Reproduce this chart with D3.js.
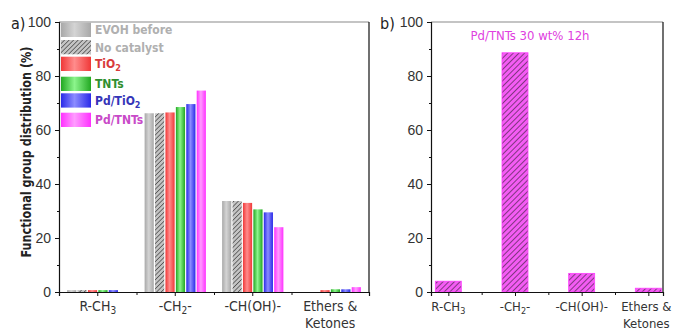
<!DOCTYPE html>
<html>
<head>
<meta charset="utf-8">
<script src="https://cdn.jsdelivr.net/npm/d3@7"></script>
<style>
  body { margin: 0; background: #fff; }
  svg { display: block; font-family: "DejaVu Sans Condensed", "DejaVu Sans", sans-serif; }
</style>
</head>
<body>
<svg width="673" height="329"></svg>
<script>
// chart data
const categories = ["R-CH3", "-CH2-", "-CH(OH)-", "Ethers & Ketones"];
const seriesNames = ["EVOH before", "No catalyst", "TiO2", "TNTs", "Pd/TiO2", "Pd/TNTs"];
const evohBefore = [0.7, 66.2, 33.7, 0];
const noCatalyst = [0.7, 66.2, 33.7, 0];
const tio2 = [0.7, 66.5, 33.0, 0.7];
const tnts = [0.7, 68.5, 30.6, 1.0];
const pdTio2 = [0.7, 69.6, 29.5, 1.0];
const pdTnts = [0, 74.6, 24.0, 1.8];
const pdTnts30wt12h = [4.0, 88.6, 6.9, 1.4];
const yTicks = [0, 20, 40, 60, 80, 100];
const yMinor = [10, 30, 50, 70, 90];

window.onload = () => {
  const svg = d3.select("svg");
  const defs = svg.append("defs");

  // cylinder-like shading for the bars
  const grad = (id, edge, mid) => {
    const g = defs.append("linearGradient").attr("id", id)
      .attr("x1", 0).attr("x2", 1).attr("y1", 0).attr("y2", 0);
    g.append("stop").attr("offset", 0).attr("stop-color", edge);
    g.append("stop").attr("offset", 0.45).attr("stop-color", mid);
    g.append("stop").attr("offset", 1).attr("stop-color", edge);
  };
  grad("gGray", "#a8a8a8", "#d4d4d4");
  grad("gRed", "#f03838", "#ff8c8c");
  grad("gGreen", "#22a822", "#8cf58c");
  grad("gBlue", "#2a2ae8", "#8c8cff");
  grad("gMag", "#ff30ff", "#ff9cff");

  const hatch = (id, bg, step, sw) => {
    const p = defs.append("pattern").attr("id", id)
      .attr("patternUnits", "userSpaceOnUse")
      .attr("width", step).attr("height", step)
      .attr("patternTransform", "rotate(45)");
    p.append("rect").attr("width", step).attr("height", step).attr("fill", bg);
    p.append("line").attr("x1", 0).attr("y1", 0).attr("x2", 0).attr("y2", step)
      .attr("stroke", "#111").attr("stroke-width", sw);
  };
  hatch("hGray", "#c4c4c4", 3.2, 1);
  hatch("hMag", "#f45cf4", 4, 1);

  const series = [
    { name: seriesNames[0], values: evohBefore, fill: "url(#gGray)", color: "#b0b0b0" },
    { name: seriesNames[1], values: noCatalyst, fill: "url(#hGray)", color: "#b0b0b0" },
    { name: seriesNames[2], values: tio2, fill: "url(#gRed)", color: "#d83a3a" },
    { name: seriesNames[3], values: tnts, fill: "url(#gGreen)", color: "#2f8f2f" },
    { name: seriesNames[4], values: pdTio2, fill: "url(#gBlue)", color: "#3434b8" },
    { name: seriesNames[5], values: pdTnts, fill: "url(#gMag)", color: "#c84ac8" }
  ];

  const top = 22, bottom = 292;
  const y = d3.scaleLinear().domain([0, 100]).range([bottom, top]);

  // ---------- panel a ----------
  const aL = 59, aR = 369;
  const x0 = d3.scaleBand().domain(categories).range([aL, aR]);
  const x1 = d3.scaleBand().domain(seriesNames).range([0, x0.bandwidth()])
    .paddingInner(0.12).paddingOuter(0.78);

  const a = svg.append("g");
  series.forEach(s => {
    a.append("g").selectAll("rect")
      .data(s.values.map((v, i) => ({ cat: categories[i], v })))
      .enter().append("rect")
      .attr("x", d => x0(d.cat) + x1(s.name))
      .attr("y", d => y(d.v))
      .attr("width", x1.bandwidth())
      .attr("height", d => bottom - y(d.v))
      .attr("fill", s.fill);
  });

  // frame
  a.append("line").attr("x1", aL).attr("x2", aR).attr("y1", top).attr("y2", top)
    .attr("stroke", "#8a8a8a").attr("stroke-width", 1.2);
  a.append("line").attr("x1", aR).attr("x2", aR).attr("y1", top).attr("y2", bottom)
    .attr("stroke", "#111").attr("stroke-width", 1.2);

  const styleAxis = g => {
    g.select(".domain").attr("stroke", "#111").attr("stroke-width", 1.2);
    g.selectAll(".tick line").attr("stroke", "#111");
    g.selectAll(".tick text").attr("fill", "#333").style("font-size", "14px");
  };

  a.append("g").attr("transform", `translate(${aL},0)`)
    .call(d3.axisLeft(y).tickValues(yTicks).tickSize(4).tickPadding(4))
    .call(styleAxis);
  a.append("g").attr("transform", `translate(${aL},0)`)
    .call(d3.axisLeft(y).tickValues(yMinor).tickSize(2).tickFormat(""))
    .call(g => g.select(".domain").remove())
    .call(styleAxis);

  a.append("g").attr("transform", `translate(0,${bottom})`)
    .call(d3.axisBottom(x0).tickSize(4).tickFormat(""))
    .call(styleAxis);
  a.append("g").attr("transform", `translate(0,${bottom})`)
    .call(d3.axisBottom(d3.scaleLinear().domain([aL, aR]).range([aL, aR]))
      .tickValues(categories.slice(1).map(c => x0(c))).tickSize(3).tickFormat(""))
    .call(g => g.select(".domain").remove())
    .call(styleAxis);

  // category labels with subscripts
  const catLabel = (g, cx, cat, fs) => {
    const t = g.append("text").attr("x", cx).attr("y", bottom + 19)
      .attr("text-anchor", "middle").attr("fill", "#333").style("font-size", fs + "px");
    if (cat === "R-CH3") {
      t.append("tspan").text("R-CH");
      t.append("tspan").text("3").attr("dy", 3).style("font-size", (fs - 4) + "px");
    } else if (cat === "-CH2-") {
      t.append("tspan").text("-CH");
      t.append("tspan").text("2").attr("dy", 3).style("font-size", (fs - 4) + "px");
      t.append("tspan").text("-").attr("dy", -3);
    } else if (cat === "Ethers & Ketones") {
      t.append("tspan").text("Ethers &");
      t.append("tspan").text("Ketones").attr("x", cx).attr("dy", 17);
    } else {
      t.text(cat);
    }
  };
  categories.forEach(c => catLabel(a, x0(c) + x0.bandwidth() / 2, c, 14));

  // legend
  const legY = [22.7, 40, 56.7, 76.7, 93.3, 112.7];
  series.forEach((s, i) => {
    a.append("rect").attr("x", 61).attr("y", legY[i]).attr("width", 30).attr("height", 14.3)
      .attr("fill", s.fill);
    const t = a.append("text").attr("x", 95).attr("y", legY[i] + 11.5)
      .attr("fill", s.color).style("font-size", "12px").style("font-weight", "bold");
    if (s.name.endsWith("TiO2")) {
      t.append("tspan").text(s.name.slice(0, -1));
      t.append("tspan").text("2").attr("dy", 3).style("font-size", "9px");
    } else {
      t.text(s.name);
    }
  });

  svg.append("text").attr("transform", "translate(31,152) rotate(-90)")
    .attr("text-anchor", "middle").attr("fill", "#222")
    .style("font-size", "14px").style("font-weight", "bold")
    .attr("textLength", 211).attr("lengthAdjust", "spacingAndGlyphs")
    .text("Functional group distribution (%)");
  svg.append("text").attr("x", 11).attr("y", 29).attr("fill", "#222")
    .style("font-size", "16px").text("a)");

  // ---------- panel b ----------
  const bL = 431, bR = 663;
  const xb = d3.scaleLinear().domain([0.74, 4.22]).range([bL, bR]);
  const bw = 26;
  const b = svg.append("g");
  b.append("g").selectAll("rect")
    .data(pdTnts30wt12h.map((v, i) => ({ i: i + 1, v })))
    .enter().append("rect")
    .attr("x", d => xb(d.i) - bw / 2)
    .attr("y", d => y(d.v))
    .attr("width", bw)
    .attr("height", d => bottom - y(d.v))
    .attr("fill", "url(#hMag)")
    .attr("stroke", "#ff40ff").attr("stroke-width", 0.8);

  b.append("line").attr("x1", bL).attr("x2", bR).attr("y1", top).attr("y2", top)
    .attr("stroke", "#8a8a8a").attr("stroke-width", 1.2);
  b.append("line").attr("x1", bR).attr("x2", bR).attr("y1", top).attr("y2", bottom)
    .attr("stroke", "#111").attr("stroke-width", 1.2);

  b.append("g").attr("transform", `translate(${bL},0)`)
    .call(d3.axisLeft(y).tickValues(yTicks).tickSize(4).tickPadding(4))
    .call(styleAxis);
  b.append("g").attr("transform", `translate(${bL},0)`)
    .call(d3.axisLeft(y).tickValues(yMinor).tickSize(2).tickFormat(""))
    .call(g => g.select(".domain").remove())
    .call(styleAxis);
  b.append("g").attr("transform", `translate(0,${bottom})`)
    .call(d3.axisBottom(xb).tickValues([1, 2, 3, 4]).tickSize(4).tickFormat(""))
    .call(styleAxis);
  b.append("g").attr("transform", `translate(0,${bottom})`)
    .call(d3.axisBottom(xb).tickValues([1.5, 2.5, 3.5]).tickSize(3).tickFormat(""))
    .call(g => g.select(".domain").remove())
    .call(styleAxis);
  categories.forEach((c, i) => catLabel(b, xb(i + 1) - (i === 3 ? 2 : 0), c, 13));

  b.append("text").attr("x", 530).attr("y", 40).attr("text-anchor", "middle")
    .attr("fill", "#e040e0").style("font-size", "13px").text("Pd/TNTs 30 wt% 12h");
  svg.append("text").attr("x", 380).attr("y", 29).attr("fill", "#222")
    .style("font-size", "16px").text("b)");
};
</script>
</body>
</html>
